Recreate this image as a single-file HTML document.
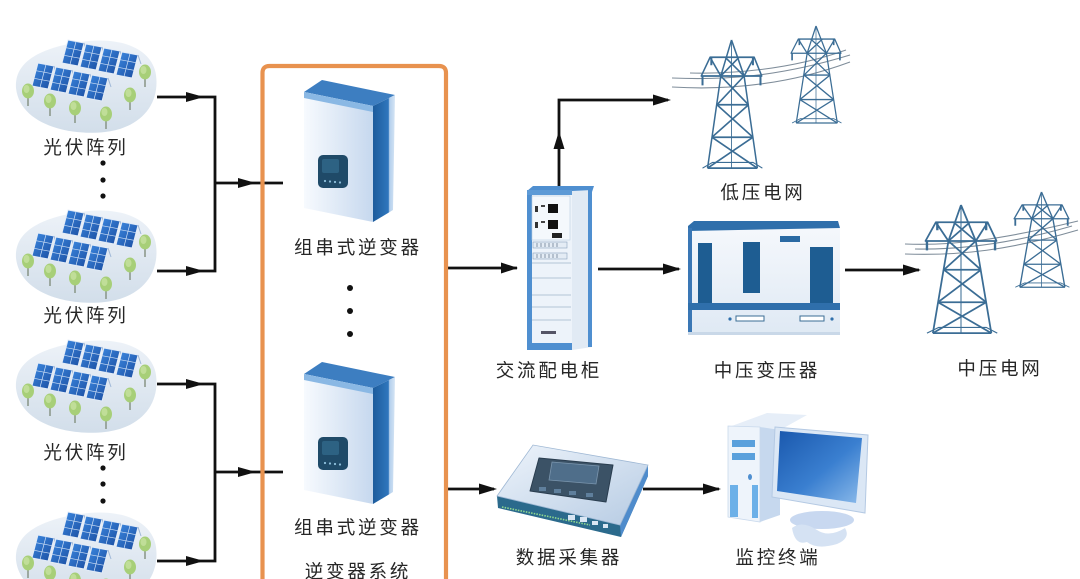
<!DOCTYPE html>
<html><head><meta charset="utf-8">
<style>
html,body{margin:0;padding:0;background:#fff;width:1080px;height:579px;overflow:hidden;}
svg{display:block;}
text{font-family:"Liberation Sans","Noto Sans CJK SC",sans-serif;font-size:18.5px;fill:#262626;letter-spacing:2.8px;}
</style></head><body>
<svg width="1080" height="579" viewBox="0 0 1080 579" xmlns="http://www.w3.org/2000/svg">
<defs>
 <linearGradient id="blob" x1="0" y1="0" x2="0" y2="1"><stop offset="0" stop-color="#edf2f8"/><stop offset="1" stop-color="#d2deea"/></linearGradient>
 <linearGradient id="pan" x1="0" y1="0" x2="1" y2="1"><stop offset="0" stop-color="#3d8ae2"/><stop offset="1" stop-color="#1a4c9f"/></linearGradient>
 <linearGradient id="invf" x1="0" y1="0" x2="1" y2="0"><stop offset="0" stop-color="#f7fafe"/><stop offset="1" stop-color="#c6d8ee"/></linearGradient>
 <linearGradient id="invs" x1="0" y1="0" x2="1" y2="0"><stop offset="0" stop-color="#1d5c9c"/><stop offset="0.7" stop-color="#2f76bd"/><stop offset="0.75" stop-color="#b3cfec"/><stop offset="1" stop-color="#d6e5f5"/></linearGradient>
 <linearGradient id="trf" x1="0" y1="0" x2="0" y2="1"><stop offset="0" stop-color="#f5f8fc"/><stop offset="1" stop-color="#dfe9f4"/></linearGradient>
 <linearGradient id="scr" x1="0" y1="0" x2="1" y2="1"><stop offset="0" stop-color="#1a58ad"/><stop offset="0.55" stop-color="#3a7fd0"/><stop offset="1" stop-color="#8bbaea"/></linearGradient>
 <linearGradient id="lgtop" x1="0" y1="0" x2="1" y2="1"><stop offset="0" stop-color="#eef4fb"/><stop offset="1" stop-color="#b6cbe3"/></linearGradient>

 <g id="panel">
  <polygon points="0,0 16,3 10,26 -6,23" fill="url(#pan)" stroke="#e3ecf8" stroke-width="0.9"/>
  <path d="M8,1.5 L2,24.5 M-2,7.7 L14,10.7 M-4,15.3 L12,18.3" stroke="#cfe0f6" stroke-width="0.7" fill="none"/>
  <path d="M16,3 L19,12" stroke="#9fb8d8" stroke-width="1" fill="none"/>
 </g>
 <g id="tree">
  <line x1="0" y1="4" x2="0" y2="15" stroke="#8d998c" stroke-width="1.6"/>
  <ellipse cx="0" cy="0" rx="6" ry="7.5" fill="#a7cf78"/>
  <ellipse cx="-1.5" cy="-2" rx="3" ry="4" fill="#c0de98"/>
 </g>
 <g id="arr">
  <path d="M16 88 C14 62 40 48 80 42 C120 36 152 48 156 75 C160 105 140 128 105 132 C70 136 20 125 16 88Z" fill="url(#blob)"/>
  <use href="#panel" x="68" y="40"/>
  <use href="#panel" x="86" y="44"/>
  <use href="#panel" x="104" y="48"/>
  <use href="#panel" x="122" y="52"/>
  <use href="#panel" x="38" y="63"/>
  <use href="#panel" x="56" y="67"/>
  <use href="#panel" x="74" y="71"/>
  <use href="#panel" x="92" y="75"/>
  <use href="#tree" x="145" y="72"/>
  <use href="#tree" x="130" y="95"/>
  <use href="#tree" x="28" y="91"/>
  <use href="#tree" x="50" y="101"/>
  <use href="#tree" x="75" y="108"/>
  <use href="#tree" x="106" y="114"/>
 </g>
 <g id="tower" fill="none" stroke="#3b6d95" stroke-width="2.4" stroke-linejoin="round">
  <path d="M50 0 L33 50 L12 178 M50 0 L70 50 L91 178"/>
  <path d="M16 24 L86 24 L98 50 L2 50 Z"/>
  <path d="M16 24 L33 50 M86 24 L70 50 M40 24 L70 50 M62 24 L33 50"/>
  <path d="M27 90 L77 90 M19 135 L84 135 M12 178 L91 178"/>
  <path d="M33 50 L77 90 M70 50 L27 90 M27 90 L84 135 M77 90 L19 135 M19 135 L91 178 M84 135 L12 178"/>
  <path d="M50 0 L50 178" stroke-width="1.4"/>
  <path d="M4 178 L20 170 L84 170 L99 178" stroke-width="1.6"/>
  <path d="M4 50 L4 63 M96 50 L96 63 M18 24 L18 35 M84 24 L84 35" stroke-width="3.2"/>
 </g>
 <g id="inv">
  <polygon points="304,92 322,80 395,95 373,106" fill="#3d7ec1"/>
  <polygon points="304,92 373,106 373,222 304,208" fill="url(#invf)"/>
  <polygon points="304,92 373,106 373,112 304,98" fill="#8ab8e4"/>
  <polygon points="373,106 395,95 393,210 373,222" fill="url(#invs)"/>
  <rect x="318" y="155" width="30" height="33" rx="5" fill="#1f4a68"/>
  <rect x="322" y="159" width="17" height="14" rx="2" fill="#2d6283"/>
  <circle cx="325" cy="181" r="1.1" fill="#8fc0dc"/>
  <circle cx="330" cy="181.5" r="1.1" fill="#8fc0dc"/>
  <circle cx="335" cy="182" r="1.1" fill="#8fc0dc"/>
  <circle cx="340" cy="182.5" r="1.1" fill="#8fc0dc"/>
 </g>
</defs>

<!-- solar arrays -->
<use href="#arr"/>
<use href="#arr" transform="translate(0,170)"/>
<use href="#arr" transform="translate(0,300)"/>
<use href="#arr" transform="translate(0,472)"/>

<text x="86" y="154" text-anchor="middle">光伏阵列</text>
<text x="86" y="322" text-anchor="middle">光伏阵列</text>
<text x="86" y="459" text-anchor="middle">光伏阵列</text>

<g fill="#111">
 <circle cx="103" cy="163" r="2.6"/><circle cx="103" cy="180" r="2.6"/><circle cx="103" cy="196" r="2.6"/>
 <circle cx="103" cy="468" r="2.6"/><circle cx="103" cy="484" r="2.6"/><circle cx="103" cy="501" r="2.6"/>
 <circle cx="350" cy="288" r="3"/><circle cx="350" cy="311" r="3"/><circle cx="350" cy="334" r="3"/>
</g>

<!-- connectors -->
<g stroke="#111" stroke-width="2.8" fill="none">
 <path d="M157 97 H215 V271 H157"/>
 <path d="M215 183 H283"/>
 <path d="M157 384 H215 V561 H157"/>
 <path d="M215 472 H283"/>
 <path d="M447 268 H517"/>
 <path d="M559 188 V100 H668"/>
 <path d="M598 269 H679"/>
 <path d="M845 270 H919"/>
 <path d="M447 489 H494"/>
 <path d="M643 489 H719"/>
</g>
<g fill="#111">
 <polygon points="186,92 204,97 186,102"/>
 <polygon points="186,266 204,271 186,276"/>
 <polygon points="186,379 204,384 186,389"/>
 <polygon points="186,556 204,561 186,566"/>
 <polygon points="238,178 256,183 238,188"/>
 <polygon points="238,467 256,472 238,477"/>
 <polygon points="501,262.5 518,268 501,273.5"/>
 <polygon points="553.5,149 559,131 564.5,149"/>
 <polygon points="653,94.5 671,100 653,105.5"/>
 <polygon points="663,263.5 681,269 663,274.5"/>
 <polygon points="903,264.5 921,270 903,275.5"/>
 <polygon points="479,483.5 497,489 479,494.5"/>
 <polygon points="703,483.5 721,489 703,494.5"/>
</g>

<!-- orange box (open at bottom edge) -->
<path d="M262.5 579 V73 Q262.5 66 269.5 66 H439 Q446 66 446 73 V579" fill="none" stroke="#e8924f" stroke-width="4.2"/>

<!-- inverters -->
<use href="#inv"/>
<use href="#inv" transform="translate(0,282)"/>
<text x="358" y="254" text-anchor="middle">组串式逆变器</text>
<text x="358" y="534" text-anchor="middle">组串式逆变器</text>
<text x="358" y="578" text-anchor="middle">逆变器系统</text>

<!-- AC cabinet -->
<g>
 <polygon points="527,191 533,186 594,186 592,192" fill="#4f8fd0"/>
 <rect x="527" y="190" width="45" height="160" fill="#edf3fa"/>
 <polygon points="572,191 592,190 592,347 572,350" fill="#e1eaf4"/>
 <rect x="588" y="190" width="4" height="157" fill="#4f8fd0"/>
 <rect x="527" y="190" width="5" height="160" fill="#4f8fd0"/>
 <rect x="527" y="190" width="45" height="5" fill="#5d9ad6"/>
 <rect x="527" y="343" width="45" height="7" fill="#4f8fd0"/>
 <rect x="532" y="196" width="38" height="44" fill="#f4f8fc" stroke="#b9cde2" stroke-width="0.6"/>
 <rect x="548" y="204" width="10" height="9" fill="#111"/>
 <rect x="548" y="220" width="10" height="9" fill="#111"/>
 <rect x="552" y="233" width="10" height="5" fill="#222"/>
 <rect x="535" y="206" width="3" height="6" fill="#333"/>
 <rect x="535" y="222" width="3" height="6" fill="#333"/>
 <rect x="541" y="205" width="4" height="2" fill="#444"/>
 <rect x="541" y="221" width="4" height="2" fill="#444"/>
 <rect x="533" y="242" width="34" height="6" fill="#e4ecf5" stroke="#8aa3bd" stroke-width="0.6"/>
 <rect x="533" y="253" width="34" height="6" fill="#e4ecf5" stroke="#8aa3bd" stroke-width="0.6"/>
 <path d="M537 243 V247 M541 243 V247 M545 243 V247 M549 243 V247 M553 243 V247 M557 243 V247 M537 254 V258 M541 254 V258 M545 254 V258 M549 254 V258 M553 254 V258 M557 254 V258" stroke="#6b7f95" stroke-width="0.8"/>
 <path d="M532 263 H571 M532 278 H571 M532 295 H571 M532 307 H571 M532 320 H571" stroke="#b3c4d6" stroke-width="1"/>
 <rect x="541" y="331" width="15" height="3" fill="#556"/>
</g>
<text x="549" y="377" text-anchor="middle">交流配电柜</text>

<!-- LV grid -->
<g fill="none" stroke="#7f8d9a" stroke-width="1.1">
 <path d="M672 78 C720 80 775 78 850 55"/>
 <path d="M672 87 C722 90 785 86 850 62"/>
 <path d="M690 73 C730 74 790 70 846 50"/>
</g>
<use href="#tower" transform="translate(790,26) scale(0.52,0.545)"/>
<use href="#tower" transform="translate(700,40) scale(0.63,0.72)"/>
<text x="763" y="199" text-anchor="middle">低压电网</text>

<!-- transformer -->
<g>
 <rect x="688" y="226" width="152" height="109" fill="url(#trf)"/>
 <polygon points="688,226 694,221 838,221 840,228 688,231" fill="#2f6fab"/>
 <rect x="688" y="228" width="4" height="104" fill="#3a77b5"/>
 <rect x="698" y="243" width="14" height="60" fill="#1e5d92"/>
 <rect x="743" y="242" width="17" height="51" fill="#1e5d92"/>
 <rect x="810" y="247" width="23" height="56" fill="#1e5d92"/>
 <rect x="780" y="236" width="20" height="6" fill="#2a6aa3"/>
 <rect x="688" y="303" width="152" height="7" fill="#2f6fab"/>
 <rect x="736" y="316" width="28" height="5" fill="#fff" stroke="#3b6d95" stroke-width="1"/>
 <rect x="800" y="316" width="24" height="5" fill="#fff" stroke="#3b6d95" stroke-width="1"/>
 <circle cx="730" cy="319" r="1.6" fill="#2f6fab"/>
 <circle cx="832" cy="319" r="1.6" fill="#2f6fab"/>
 <rect x="688" y="332" width="152" height="3" fill="#c9d8e8"/>
</g>
<text x="767" y="377" text-anchor="middle">中压变压器</text>

<!-- MV grid -->
<g fill="none" stroke="#7f8d9a" stroke-width="1.1">
 <path d="M905 244 C950 246 1000 240 1078 221"/>
 <path d="M905 254 C960 256 1010 250 1078 230"/>
 <path d="M915 249 C960 250 1010 244 1072 226"/>
</g>
<use href="#tower" transform="translate(1013,192) scale(0.57,0.535)"/>
<use href="#tower" transform="translate(924,205) scale(0.74,0.72)"/>
<text x="1000" y="375" text-anchor="middle">中压电网</text>

<!-- data logger -->
<g>
 <polygon points="497,496 498,508 621,537 648,476 648,465 620,525" fill="#2b6a8c"/>
 <polygon points="620,525 648,465 648,476 621,537" fill="#4f8ccc"/>
 <polygon points="497,496 533,445 648,465 620,525" fill="url(#lgtop)" stroke="#9fb8d4" stroke-width="0.8"/>
 <polygon points="539,458 613,465 606,502 530,491" fill="#3b5266" stroke="#2a3d4f" stroke-width="1" stroke-linejoin="round"/>
 <polygon points="552,462 599,466 596,484 549,480" fill="#4f6e8a" stroke="#7a95ad" stroke-width="0.8"/>
 <g fill="#5f7f9c"><rect x="539" y="487" width="7" height="4"/><rect x="554" y="489" width="7" height="4"/><rect x="569" y="491" width="7" height="4"/><rect x="586" y="493" width="7" height="4"/></g>
 <path d="M502 507 L590 525" stroke="#8fd88f" stroke-width="1.6" stroke-dasharray="1.5 1.2"/>
 <g fill="#d9e6f3"><rect x="568" y="515" width="7" height="5"/><rect x="580" y="517" width="7" height="5"/><rect x="592" y="521" width="6" height="4"/><rect x="603" y="524" width="5" height="4"/></g>
</g>
<text x="569" y="564" text-anchor="middle">数据采集器</text>

<!-- PC -->
<g>
 <polygon points="729,427 767,413 807,415 780,430" fill="#e6eef8"/>
 <polygon points="760,427 780,430 780,515 760,522" fill="#c6d8ee"/>
 <polygon points="728,426 760,427 760,522 728,517" fill="#eef4fb" stroke="#c9d9ec" stroke-width="0.8"/>
 <rect x="732" y="440" width="23" height="7" fill="#5aa0dc"/>
 <rect x="732" y="453" width="23" height="7" fill="#5aa0dc"/>
 <ellipse cx="750" cy="477" rx="2" ry="3" fill="#4f8fd0"/>
 <rect x="730" y="485" width="8" height="32" fill="#6cb0e8"/>
 <rect x="752" y="485" width="6" height="33" fill="#6cb0e8"/>
 <ellipse cx="822" cy="520" rx="32" ry="9" fill="#c8d8f0"/>
 <path d="M792 528 q10 -8 25 2 q12 8 28 -2 q6 10 -8 16 q-20 6 -30 -2 q-12 4 -15 -14z" fill="#d5e2f3"/>
 <polygon points="775,427 868,435 865,513 772,497" fill="#dbe7f5" stroke="#b4c9e3" stroke-width="1"/>
 <polygon points="780,431 862,438 856,503 777,491" fill="url(#scr)"/>
</g>
<text x="778" y="564" text-anchor="middle">监控终端</text>
</svg>
</body></html>
